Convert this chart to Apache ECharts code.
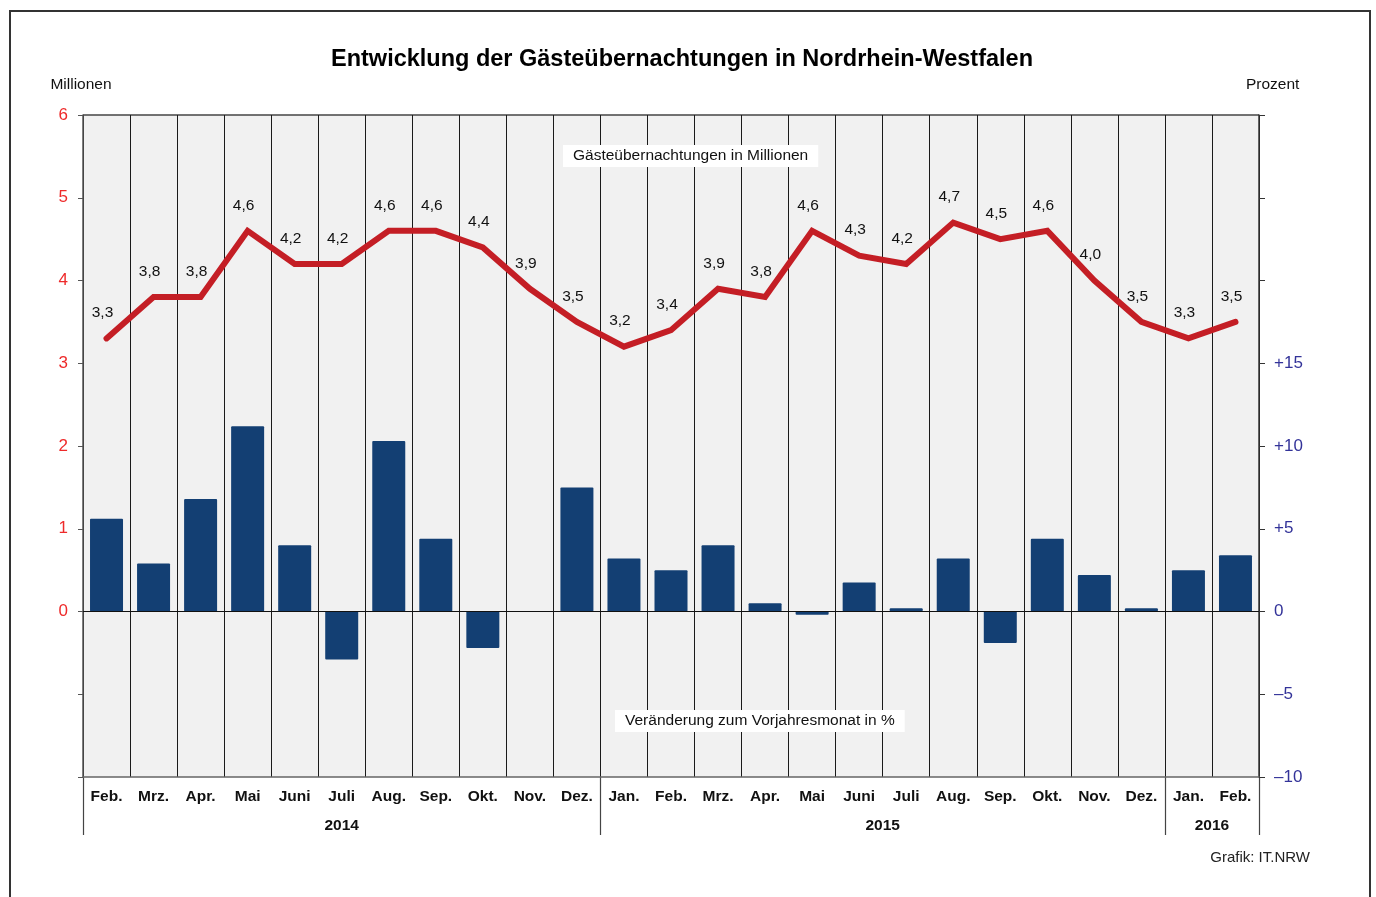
<!DOCTYPE html>
<html>
<head>
<meta charset="utf-8">
<title>Gästeübernachtungen NRW</title>
<script src="https://cdn.jsdelivr.net/npm/echarts@6/dist/echarts.min.js"></script>
<style>
  html, body { margin: 0; padding: 0; background: #fff; }
  #chart { width: 1376px; height: 897px; }
</style>
</head>
<body>
<div id="chart"></div>
<script>
  // months Feb 2014 .. Feb 2016
  var months = ['Feb.', 'Mrz.', 'Apr.', 'Mai', 'Juni', 'Juli', 'Aug.', 'Sep.', 'Okt.', 'Nov.', 'Dez.',
    'Jan.', 'Feb.', 'Mrz.', 'Apr.', 'Mai', 'Juni', 'Juli', 'Aug.', 'Sep.', 'Okt.', 'Nov.', 'Dez.',
    'Jan.', 'Feb.']
  // Gästeübernachtungen in Millionen
  var guests = [3.3, 3.8, 3.8, 4.6, 4.2, 4.2, 4.6, 4.6, 4.4, 3.9, 3.5,
    3.2, 3.4, 3.9, 3.8, 4.6, 4.3, 4.2, 4.7, 4.5, 4.6, 4.0, 3.5,
    3.3, 3.5]
  // Veränderung zum Vorjahresmonat in %
  var change = [5.6, 2.9, 6.8, 11.2, 4.0, -2.9, 10.3, 4.4, -2.2, 0, 7.5,
    3.2, 2.5, 4.0, 0.5, -0.2, 1.75, 0.2, 3.2, -1.9, 4.4, 2.2, 0.2,
    2.5, 3.4]
  // year groups: label, position (in months from start), boundaries
  var years = ['2014', '2015', '2016']
  var yearCenters = [5.5, 17, 24]
  var yearBounds = [0, 11, 23, 25]

  var chart = echarts.init(document.getElementById('chart'))
  var font = 'Liberation Sans, Arial, sans-serif'

  chart.setOption({
    animation: false,
    textStyle: { fontFamily: font },
    title: {
      text: 'Entwicklung der Gästeübernachtungen in Nordrhein-Westfalen',
      left: 326,
      top: 43,
      textStyle: { fontSize: 23.5, fontWeight: 'bold', color: '#000', fontFamily: font }
    },
    grid: [
      {
        left: 83, right: 117, top: 115, bottom: 120,
        show: true, backgroundColor: '#f1f1f1', borderWidth: 0
      },
      // strip under the month labels holding the year separators
      { left: 83, right: 117, top: 777, height: 58, show: false }
    ],
    xAxis: [
      {
        type: 'category',
        gridIndex: 0,
        data: months,
        boundaryGap: true,
        axisLine: { onZero: false, lineStyle: { color: '#666', width: 1.5 } },
        axisTick: { show: false },
        splitLine: { show: true, interval: 0, lineStyle: { color: '#1a1a1a', width: 1 } },
        axisLabel: { interval: 0, margin: 12, fontSize: 15.5, fontWeight: 'bold', color: '#111', fontFamily: font }
      },
      {
        type: 'value',
        gridIndex: 0,
        position: 'bottom',
        min: 0,
        max: 25,
        axisLine: { show: false, onZero: false },
        splitLine: { show: false },
        axisTick: { show: false },
        axisLabel: {
          show: true, margin: 41, fontSize: 15.5, fontWeight: 'bold', color: '#111', fontFamily: font,
          customValues: yearCenters,
          formatter: function (v) {
            var i = yearCenters.indexOf(v)
            return i >= 0 ? years[i] : ''
          }
        }
      },
      {
        type: 'category',
        gridIndex: 1,
        data: months,
        boundaryGap: true,
        axisLine: { show: false, onZero: false },
        axisTick: { show: false },
        axisLabel: { show: false },
        splitLine: {
          show: true,
          interval: function (i) { return yearBounds.indexOf(i) >= 0 },
          lineStyle: { color: '#444', width: 1.2 }
        }
      }
    ],
    yAxis: [
      {
        type: 'value',
        gridIndex: 0,
        min: -2, max: 6, interval: 1,
        name: 'Millionen',
        nameLocation: 'end',
        nameGap: 22,
        nameTextStyle: { color: '#111', fontSize: 15.5, fontFamily: font, align: 'center', padding: [0, 4, 0, 0] },
        axisLine: { show: true, lineStyle: { color: '#555', width: 1.5 } },
        axisTick: { show: true, length: 5, lineStyle: { color: '#555' } },
        axisLabel: {
          margin: 15, fontSize: 17, color: '#ee2a2a', fontFamily: font,
          formatter: function (v) { return v < 0 ? '' : String(v) }
        },
        splitLine: {
          show: true,
          lineStyle: { color: ['transparent', 'transparent', 'transparent', 'transparent', 'transparent',
            'transparent', 'transparent', 'transparent', '#444'], width: 1.5 }
        }
      },
      {
        type: 'value',
        gridIndex: 0,
        min: -10, max: 30, interval: 5,
        name: 'Prozent',
        nameLocation: 'end',
        nameGap: 22,
        nameTextStyle: { color: '#111', fontSize: 15.5, fontFamily: font, align: 'left', padding: [0, 0, 0, -13] },
        position: 'right',
        axisLine: { show: true, lineStyle: { color: '#333', width: 1.5 } },
        axisTick: { show: true, length: 6, lineStyle: { color: '#333' } },
        axisLabel: {
          margin: 15, fontSize: 17, color: '#333399', fontFamily: font,
          formatter: function (v) {
            if (v > 15) return ''
            if (v > 0) return '+' + v
            if (v < 0) return '\u2013' + Math.abs(v)
            return '0'
          }
        },
        splitLine: { show: false }
      },
      { type: 'value', gridIndex: 1, show: false }
    ],
    graphic: [
      {
        type: 'rect',
        silent: true,
        shape: { x: 10, y: 11, width: 1360, height: 900 },
        style: { fill: 'none', stroke: '#333', lineWidth: 2 }
      },
      {
        type: 'text',
        left: 563, top: 145, z: 20,
        style: {
          text: 'Gästeübernachtungen in Millionen', fill: '#111', font: '15.5px ' + font,
          backgroundColor: '#fff', padding: [3, 10, 3, 10]
        }
      },
      {
        type: 'text',
        left: 615, top: 710, z: 20,
        style: {
          text: 'Veränderung zum Vorjahresmonat in %', fill: '#111', font: '15.5px ' + font,
          backgroundColor: '#fff', padding: [3, 10, 3, 10]
        }
      },
      {
        type: 'text',
        right: 66, top: 850,
        style: { text: 'Grafik: IT.NRW', fill: '#222', font: '15px ' + font }
      }
    ],
    series: [
      {
        name: 'Veränderung',
        type: 'bar',
        xAxisIndex: 0,
        yAxisIndex: 1,
        barWidth: 33,
        data: change,
        itemStyle: { color: '#133f73', borderRadius: 1 },
        markLine: {
          silent: true,
          symbol: 'none',
          label: { show: false },
          lineStyle: { color: '#111', width: 1.2, type: 'solid' },
          data: [{ yAxis: 0 }]
        },
        z: 3
      },
      {
        name: 'Gästeübernachtungen',
        type: 'line',
        xAxisIndex: 0,
        yAxisIndex: 0,
        data: guests,
        symbol: 'circle',
        symbolSize: 1,
        showSymbol: true,
        itemStyle: { color: '#c41e25' },
        lineStyle: { color: '#c41e25', width: 6, cap: 'round', join: 'miter' },
        label: {
          show: true,
          position: 'top',
          distance: 17,
          offset: [-4, 0],
          fontSize: 15.5,
          color: '#111',
          fontFamily: font,
          formatter: function (p) { return p.value.toFixed(1).replace('.', ',') }
        },
        z: 5
      }
    ]
  })
</script>
</body>
</html>
